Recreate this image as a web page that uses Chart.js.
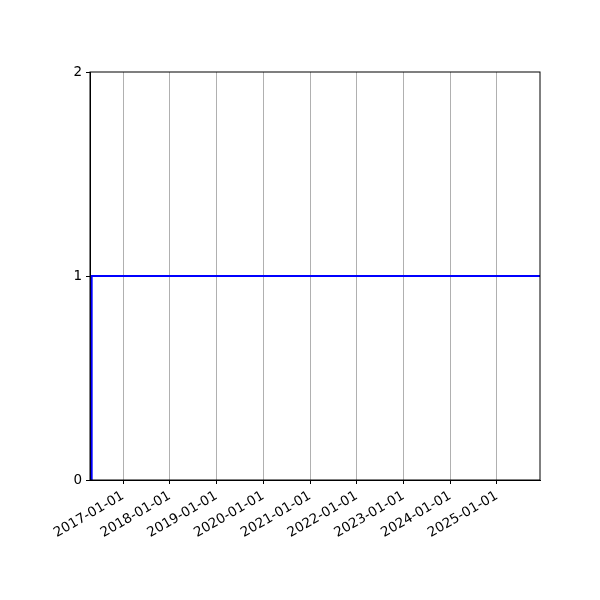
<!DOCTYPE html>
<html>
<head>
<meta charset="utf-8">
<script src="https://cdn.jsdelivr.net/npm/chart.js@4"></script>
<style>
html,body{margin:0;padding:0;background:#fff;}
#wrap{width:600px;height:600px;}
</style>
</head>
<body>
<div id="wrap"><canvas id="c" width="600" height="600"></canvas></div>
<script>
const stepDates = ['2016-05-01', '2016-05-01', '2025-12-03'];
const stepValues = [0, 1, 1];
const tickLabels = ['2017-01-01','2018-01-01','2019-01-01','2020-01-01','2021-01-01','2022-01-01','2023-01-01','2024-01-01','2025-01-01'];
const xLimits = ['2016-04-18', '2025-12-03'];
const yTicks = [0, 1, 2];

const ms = s => Date.parse(s + 'T00:00:00Z');
const points = stepDates.map((d, i) => ({x: ms(d), y: stepValues[i]}));
const tickValues = tickLabels.map(ms);

const frame = {
  id: 'frame',
  afterDraw(chart) {
    const a = chart.chartArea, ctx = chart.ctx;
    ctx.save();
    ctx.strokeStyle = '#000';
    ctx.lineWidth = 1;
    ctx.strokeRect(a.left, a.top, a.right - a.left, a.bottom - a.top);
    ctx.restore();
  }
};

const font = {family: 'DejaVu Sans', size: 13.5};

new Chart(document.getElementById('c'), {
  type: 'line',
  data: {
    datasets: [{
      data: points,
      borderColor: '#0000ff',
      borderWidth: 2,
      pointRadius: 0,
      tension: 0,
      fill: false
    }]
  },
  options: {
    responsive: false,
    animation: false,
    devicePixelRatio: 1,
    layout: {padding: {top: 72, right: 60, left: 0, bottom: 0}},
    plugins: {legend: {display: false}, tooltip: {enabled: false}},
    scales: {
      x: {
        type: 'linear',
        min: ms(xLimits[0]),
        max: ms(xLimits[1]),
        afterBuildTicks: s => { s.ticks = tickValues.map(v => ({value: v})); },
        afterFit: s => { s.height = 120; },
        ticks: {
          color: '#000',
          font: font,
          minRotation: 30,
          maxRotation: 30,
          autoSkip: false,
          padding: 4,
          callback: (v, i) => tickLabels[i]
        },
        grid: {
          color: '#b0b0b0',
          lineWidth: 1,
          drawTicks: true,
          tickColor: '#000',
          tickLength: 4
        },
        border: {color: '#000', width: 1}
      },
      y: {
        min: 0,
        max: 2,
        afterBuildTicks: s => { s.ticks = yTicks.map(v => ({value: v})); },
        afterFit: s => { s.width = 90; },
        ticks: {color: '#000', font: font, padding: 4, callback: v => String(v)},
        grid: {drawOnChartArea: false, drawTicks: true, tickColor: '#000', tickLength: 4},
        border: {color: '#000', width: 1}
      }
    }
  },
  plugins: [frame]
});
</script>
</body>
</html>
